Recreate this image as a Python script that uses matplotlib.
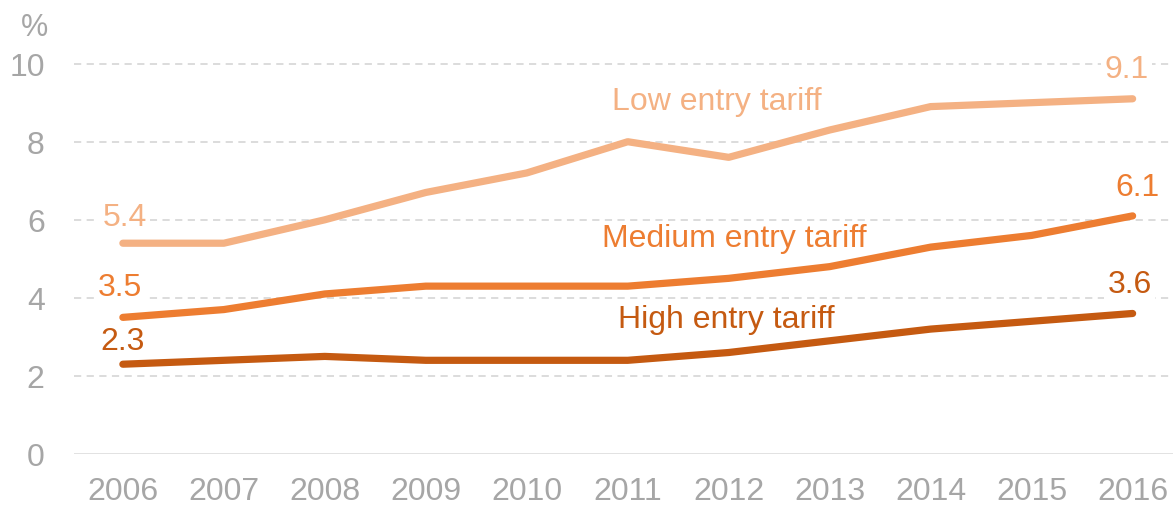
import matplotlib
matplotlib.use("Agg")
import matplotlib.pyplot as plt

plt.rcParams['font.family'] = ['Liberation Sans', 'DejaVu Sans']

years = [2006, 2007, 2008, 2009, 2010, 2011, 2012, 2013, 2014, 2015, 2016]
low_entry = [5.4, 5.4, 6.0, 6.7, 7.2, 8.0, 7.6, 8.3, 8.9, 9.0, 9.1]
medium_entry = [3.5, 3.7, 4.1, 4.3, 4.3, 4.3, 4.5, 4.8, 5.3, 5.6, 6.1]
high_entry = [2.3, 2.4, 2.5, 2.4, 2.4, 2.4, 2.6, 2.9, 3.2, 3.4, 3.6]
y_ticks = [0, 2, 4, 6, 8, 10]

c_low = '#F4B183'
c_med = '#ED7D31'
c_high = '#C55A11'
grey = '#A6A6A6'

fig = plt.figure(figsize=(11.73, 5.06), dpi=100)
ax = fig.add_axes([0.063, 0.1008, 0.937, 0.81])

ax.set_xlim(2005.515, 2016.4)
ax.set_ylim(0, 10.5)

for y in y_ticks[1:]:
    ax.axhline(y, color='#D9D9D9', lw=1.3, ls=(0, (4, 3)), zorder=1)
ax.axhline(0, color='#D9D9D9', lw=1.8, zorder=1)

series = [(low_entry, c_low, 'Low entry tariff', (2011.88, 9.05), (2, 26), (-6, 30)),
          (medium_entry, c_med, 'Medium entry tariff', (2012.06, 5.54), (-3, 30), (5, 29)),
          (high_entry, c_high, 'High entry tariff', (2011.98, 3.46), (0, 23), (-3, 29))]

for vals, col, name, lpos, off0, off1 in series:
    ax.plot(years, vals, color=col, lw=5.2, solid_capstyle='round',
            solid_joinstyle='round', zorder=3)
    ax.text(lpos[0], lpos[1], name, color=col, fontsize=23,
            ha='center', va='center', zorder=4)
    for xi, vi, off in ((years[0], vals[0], off0), (years[-1], vals[-1], off1)):
        ax.annotate(f'{vi:.1f}', (xi, vi), xytext=(off[0] * 0.72, off[1] * 0.72),
                    textcoords='offset points', ha='center', va='center',
                    color=col, fontsize=23, zorder=2,
                    bbox=dict(boxstyle='square,pad=0.1', fc='white', ec='none'))

ax.set_xticks(years)
ax.set_xticklabels([str(y) for y in years])
ax.set_yticks(y_ticks)
ax.tick_params(axis='both', length=0, labelsize=23, labelcolor=grey)
ax.tick_params(axis='y', pad=21)
ax.tick_params(axis='x', pad=15.5)
for s in ax.spines.values():
    s.set_visible(False)

fig.text(35 / 1173, 1 - 28 / 506, '%', color=grey, fontsize=22,
         ha='center', va='center')

fig.savefig('out.png', dpi=100, facecolor='white')
